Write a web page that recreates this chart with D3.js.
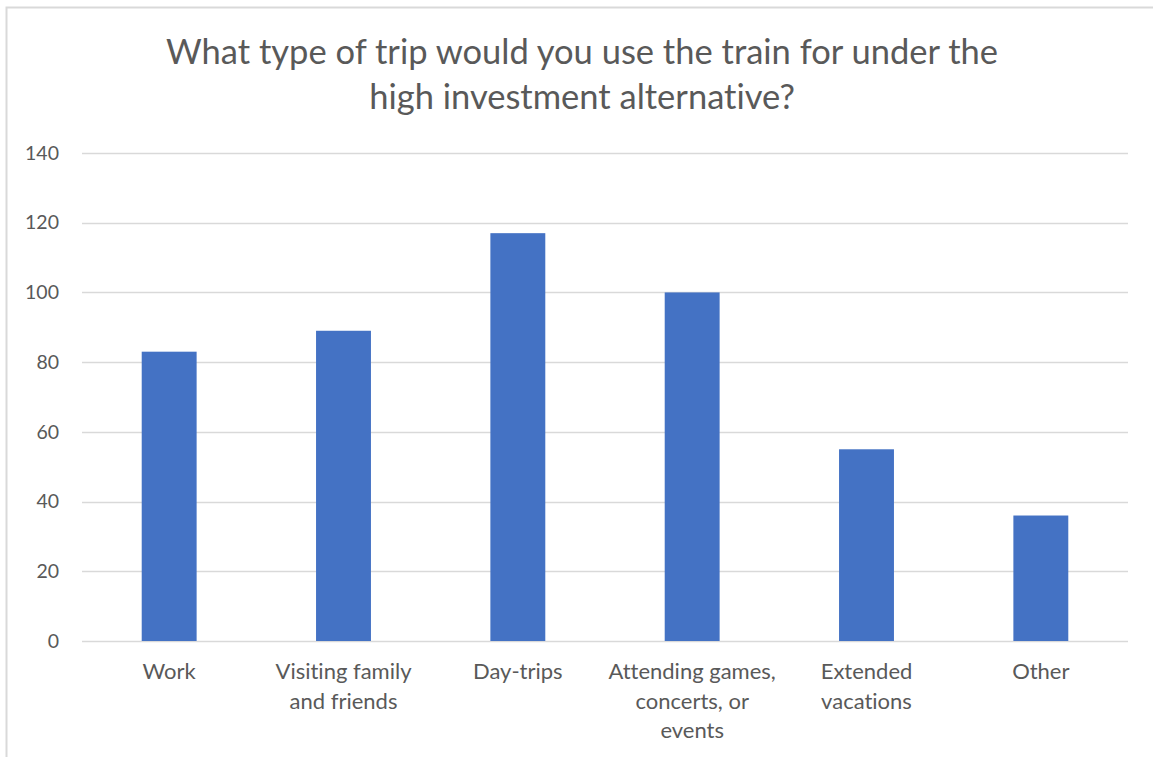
<!DOCTYPE html>
<html>
<head>
<meta charset="utf-8">
<script src="https://cdn.jsdelivr.net/npm/d3@7"></script>
<style>
  html, body { margin: 0; padding: 0; background: #fff; }
  svg { display: block; }
  text { font-family: Lato, "Open Sans", sans-serif; fill: #595959; font-variant-ligatures: none; }
</style>
</head>
<body>
<svg id="chart" width="1153" height="757"></svg>
<script>
// Survey responses: trip types for the high investment alternative
const categories = [
  ["Work"],
  ["Visiting family", "and friends"],
  ["Day-trips"],
  ["Attending games,", "concerts, or", "events"],
  ["Extended", "vacations"],
  ["Other"]
];
const values = [83, 89, 117, 100, 55, 36];
const yTicks = [0, 20, 40, 60, 80, 100, 120, 140];
const titleLines = [
  "What type of trip would you use the train for under the",
  "high investment alternative?"
];

const svg = d3.select("#chart");
const W = 1153, H = 757;
const plot = { left: 82, right: 1128, top: 153, bottom: 641 };

// Chart frame
svg.append("path")
  .attr("d", `M6.5,${H} V7.5 H${W}`)
  .attr("fill", "none")
  .attr("stroke", "#d9d9d9")
  .attr("stroke-width", 2);

// Title
svg.append("text")
  .attr("x", 582)
  .attr("y", 64)
  .attr("text-anchor", "middle")
  .style("font-size", "34.5px")
  .selectAll("tspan")
  .data(titleLines)
  .join("tspan")
  .attr("x", 582)
  .attr("dy", (d, i) => i === 0 ? 0 : 45)
  .text(d => d);

const x = d3.scaleBand()
  .domain(d3.range(categories.length))
  .range([plot.left, plot.right])
  .paddingInner(0.685)
  .paddingOuter(0.3425);

const y = d3.scaleLinear()
  .domain([0, 140])
  .range([plot.bottom, plot.top]);

// Horizontal gridlines
svg.append("g")
  .selectAll("line")
  .data(yTicks)
  .join("line")
  .attr("x1", plot.left)
  .attr("x2", plot.right)
  .attr("y1", d => Math.round(y(d)) + 0.5)
  .attr("y2", d => Math.round(y(d)) + 0.5)
  .attr("stroke", "#d9d9d9")
  .attr("stroke-width", 1.3);

// Y axis labels
const yAxis = d3.axisLeft(y).tickValues(yTicks).tickSize(0).tickPadding(0);
const gy = svg.append("g")
  .attr("transform", `translate(59,0)`)
  .call(yAxis);
gy.select(".domain").remove();
gy.selectAll("text")
  .attr("fill", "#595959")
  .style("font-size", "19.5px")
  .style("font-family", "Lato, 'Open Sans', sans-serif");

// Bars
svg.append("g")
  .selectAll("rect")
  .data(values)
  .join("rect")
  .attr("x", (d, i) => x(i))
  .attr("width", x.bandwidth())
  .attr("y", d => y(d))
  .attr("height", d => y(0) - y(d))
  .attr("fill", "#4472c4");

// Category labels (wrapped)
const labels = svg.append("g")
  .selectAll("text")
  .data(categories)
  .join("text")
  .attr("text-anchor", "middle")
  .attr("y", 679)
  .style("font-size", "22px");
labels.selectAll("tspan")
  .data((d, i) => d.map(line => ({ line, i })))
  .join("tspan")
  .attr("x", d => x(d.i) + x.bandwidth() / 2)
  .attr("dy", (d, j) => j === 0 ? 0 : 29.5)
  .text(d => d.line);
</script>
</body>
</html>
